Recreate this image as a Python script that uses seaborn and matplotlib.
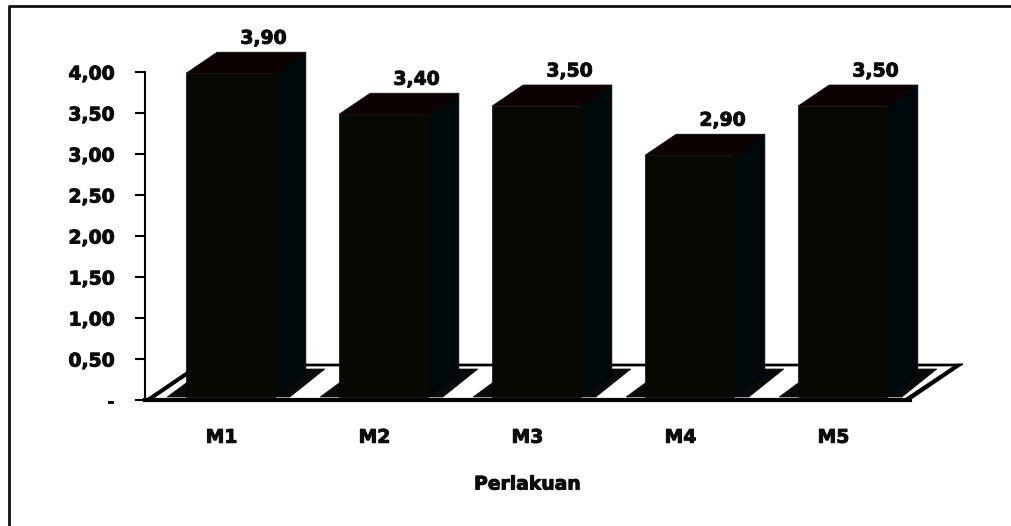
import matplotlib
matplotlib.use("Agg")
import matplotlib.patheffects as pe
import matplotlib.pyplot as plt
from matplotlib.lines import Line2D
from matplotlib.patches import Polygon
from matplotlib.transforms import IdentityTransform
import pandas as pd
import seaborn as sns

categories = ["M1", "M2", "M3", "M4", "M5"]
values = [3.90, 3.40, 3.50, 2.90, 3.50]
value_labels = ["3,90", "3,40", "3,50", "2,90", "3,50"]
y_ticks = [0, 0.5, 1, 1.5, 2, 2.5, 3, 3.5, 4]
y_tick_labels = ["-", "0,50", "1,00", "1,50", "2,00", "2,50", "3,00", "3,50", "4,00"]

W, H = 1011, 526
DX, DY = 31, 21      # 3d depth of a bar, px
SHIFT_X, SHIFT_Y = 9, 7  # bars sit a little inside the floor
INK = "#0c0c0c"
HEAVY = [pe.withStroke(linewidth=0.7, foreground=INK)]

sns.set_theme(style="white")
plt.rcParams["font.family"] = ["DejaVu Sans"]
plt.rcParams["font.weight"] = "bold"

fig = plt.figure(figsize=(W / 100, H / 100), dpi=100)
ax = fig.add_axes([145 / W, 1 - 400 / H, 765 / W, 328 / H])
df = pd.DataFrame({"Perlakuan": categories, "nilai": values})
sns.barplot(data=df, x="Perlakuan", y="nilai", color="#080802", saturation=1, width=0.58, ax=ax, zorder=5)
ax.set_xlim(-0.5, 4.5)
ax.set_ylim(0, 4)
ax.set_yticks(y_ticks, y_tick_labels, fontsize=13.5, fontweight="bold", color=INK)
ax.set_xticks(range(5), categories, fontsize=13.5, fontweight="bold", color=INK)
ax.tick_params(axis="y", length=7, width=1.5, color="black", pad=15, left=True)
ax.tick_params(axis="x", length=0, pad=20)
ax.set_xlabel("Perlakuan", fontsize=13.5, fontweight="bold", color=INK, labelpad=20)
ax.set_ylabel("")
for t in ax.get_xticklabels() + ax.get_yticklabels() + [ax.xaxis.label]:
    t.set_path_effects(HEAVY)
for s in ["top", "right"]:
    ax.spines[s].set_visible(False)
ax.spines["left"].set_linewidth(1.5)
ax.spines["left"].set_color("black")
ax.spines["bottom"].set_linewidth(3)
ax.spines["bottom"].set_color("black")
ax.patch.set_alpha(0)

px = IdentityTransform()


def poly(points, color, z):
    # points are display px, y going up
    fig.add_artist(Polygon(points, closed=True, facecolor=color, edgecolor=color, lw=0.5, transform=px, zorder=z))


x0, y0 = ax.transData.transform((-0.5, 0))
x1, _ = ax.transData.transform((4.5, 0))
# floor edges
poly([(x1, y0), (x1 + 53, y0 + 36), (x1 + 47, y0 + 36), (x1 - 4, y0 + 2)], "black", 1)
poly([(x0 + 53, y0 + 36), (x1 + 53, y0 + 36), (x1 + 50, y0 + 34), (x0 + 53, y0 + 34)], "black", 1)
poly([(x0, y0), (x0 + 53, y0 + 36), (x0 + 53, y0 + 32), (x0 + 6, y0)], "black", 1)

for patch, label in zip(ax.patches, value_labels):
    (left, top) = ax.transData.transform((patch.get_x(), patch.get_height()))
    (right, _) = ax.transData.transform((patch.get_x() + patch.get_width(), 0))
    left += SHIFT_X
    right += SHIFT_X
    top += SHIFT_Y
    base = y0 + 3
    # shadow on the floor
    poly([(left - 19, base), (right + 15, base), (right + 50, base + 28), (left + 19, base + 28)], "#0a0a0a", 2)
    # front, side and top faces
    poly([(left, base), (right, base), (right, top), (left, top)], "#080802", 4)
    poly([(right, base), (right + DX, base + DY), (right + DX, top + DY), (right, top)], "#01080c", 3)
    poly([(left, top), (right, top), (right + DX, top + DY), (left + DX, top + DY)], "#0c0202", 3)
    fig.text(((left + right) / 2 + 33) / W, (top + 35) / H, label, ha="center", va="center",
             fontsize=13.5, fontweight="bold", color=INK, zorder=6, path_effects=HEAVY)

# seaborn bars are the data reference, faces above are shifted copies
for patch in ax.patches:
    patch.set_visible(False)

# frame: only the left and top sides are in the picture
fy = 1 - 6 / H
fx = 8.5 / W
fig.add_artist(Line2D([fx, fx, 1], [0, fy, fy], transform=fig.transFigure, color="#111111", lw=2))
fig.savefig("out.png", dpi=100)
